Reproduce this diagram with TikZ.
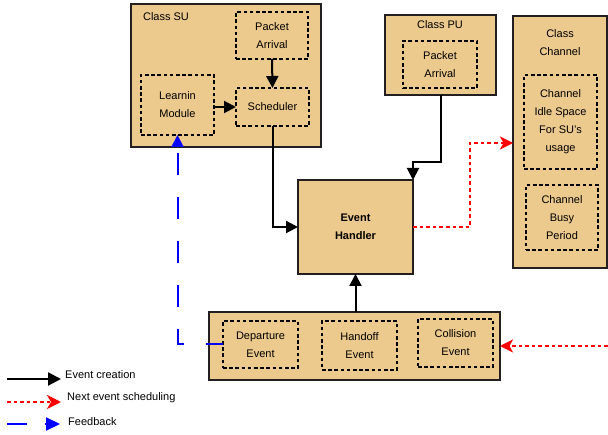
\documentclass[tikz,border=0pt]{standalone}
\usepackage{fontspec}
\setmainfont{Liberation Sans}
\usetikzlibrary{arrows.meta,calc}
\definecolor{tanfill}{RGB}{236,201,141}
\definecolor{edgecol}{RGB}{35,31,32}
\begin{document}
\begin{tikzpicture}[x=1pt,y=-1pt,
  classbox/.style={draw=edgecol,line width=2.4pt,fill=tanfill,anchor=north west,inner sep=0pt,outer sep=0pt},
  subbox/.style={draw=black,line width=2pt,dash pattern=on 3.6pt off 2.6pt,anchor=north west,inner sep=0pt,outer sep=0pt,align=center,font=\fontsize{11}{18}\selectfont},
  lbl/.style={font=\fontsize{11}{18}\selectfont,align=center,inner sep=0pt},
  evt/.style={-{Triangle[length=12pt,width=12pt]},line width=2pt,black},
  sched/.style={-{Stealth[length=13pt,width=13pt,inset=3.5pt]},line width=2pt,red,dash pattern=on 3.6pt off 3pt},
  fb/.style={-{Triangle[length=12pt,width=12pt]},line width=2pt,blue,dash pattern=on 22pt off 22pt}]

\useasboundingbox (0,0) rectangle (608,435);

% Class SU
\node[classbox,minimum width=190pt,minimum height=143pt] (su) at (131,4) {};
\node[lbl] (sut) at (166,17) {Class SU};
\node[subbox,minimum width=72pt,minimum height=47pt] (sup) at (236,12) {Packet\\Arrival};
\node[subbox,minimum width=73pt,minimum height=60pt] (lm) at (141,75) {Learnin\\Module};
\node[subbox,minimum width=73pt,minimum height=38pt] (sch) at (236,88) {Scheduler};

% Class PU
\node[classbox,minimum width=111pt,minimum height=80pt] (pu) at (385,15) {};
\node[lbl] (put) at (440,25) {Class PU};
\node[subbox,minimum width=74pt,minimum height=47pt] (pup) at (403,41) {Packet\\Arrival};

% Class Channel
\node[classbox,minimum width=94pt,minimum height=252pt] (ch) at (513,16) {};
\node[lbl] (cht) at (560,43) {Class\\Channel};
\node[subbox,minimum width=73pt,minimum height=94pt] (idle) at (524,75) {Channel\\Idle Space\\For SU's\\usage};
\node[subbox,minimum width=72pt,minimum height=65pt] (busy) at (526,185) {Channel\\Busy\\Period};

% Event handler
\node[classbox,minimum width=115pt,minimum height=94pt,align=center,font=\fontsize{11}{18}\selectfont\bfseries,anchor=north west] (eh) at (298,180) {Event\\Handler};

% Events box
\node[classbox,minimum width=291pt,minimum height=68pt] (ev) at (209,312) {};
\node[subbox,minimum width=75pt,minimum height=47pt] (dep) at (223,321) {Departure\\Event};
\node[subbox,minimum width=75pt,minimum height=49pt] (hof) at (322,321) {Handoff\\Event};
\node[subbox,minimum width=75pt,minimum height=48pt] (col) at (418,319) {Collision\\Event};

% connectors
\draw[evt] (sup.south) -- (sch.north);
\draw[evt] (lm.east |- sch.west) -- (sch.west);
\draw[evt] (sch.south) |- (eh.west);
\draw[evt] (pu.south) |- ($(eh.north east)+(0,-18)$) -- (eh.north east);
\draw[evt] (ev.north -| eh.south) -- (eh.south);
\draw[sched] (eh.east) -- ++(57,0) |- ($(ch.north west)+(0,127)$);
\coordinate (rin) at (608,346);
\draw[sched] (rin) -- (ev.east |- rin);
\draw[fb,dash phase=5pt] (dep.west) -| (lm.south);

% legend
\coordinate (l1a) at (7,379); \coordinate (l1b) at (61,379);
\draw[-{Triangle[length=13pt,width=13pt]},line width=2.2pt,black] (l1a) -- (l1b);
\node[lbl,anchor=west] (l1t) at (65,375) {Event creation};
\coordinate (l2a) at (7,402); \coordinate (l2b) at (61,402);
\draw[-{Stealth[length=14pt,width=14pt,inset=4pt]},line width=2pt,red,dash pattern=on 3.6pt off 3pt] (l2a) -- (l2b);
\node[lbl,anchor=west] (l2t) at (67,398) {Next event scheduling};
\coordinate (l3a) at (7,424); \coordinate (l3b) at (60,424);
\draw[-{Triangle[length=14pt,width=13pt]},line width=2pt,blue,dash pattern=on 20pt off 18pt] (l3a) -- (l3b);
\node[lbl,anchor=west] (l3t) at (68,422) {Feedback};
\end{tikzpicture}
\end{document}
